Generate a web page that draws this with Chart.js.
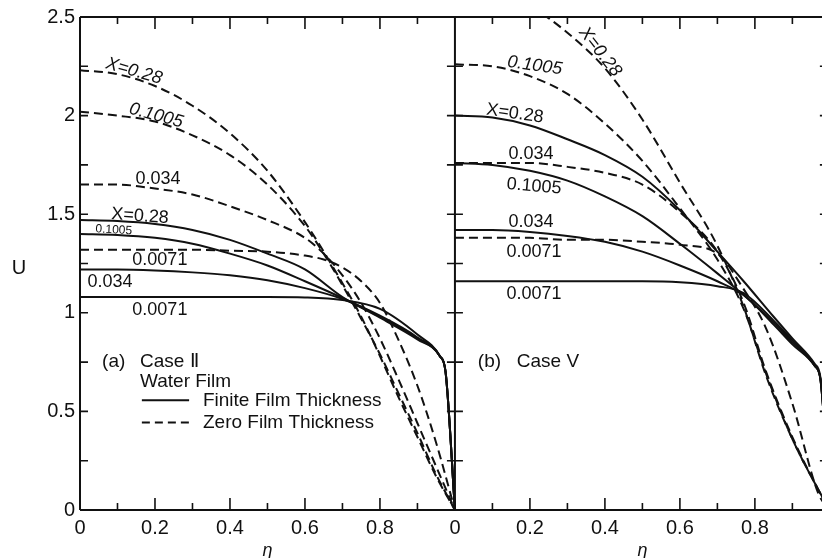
<!DOCTYPE html>
<html>
<head>
<meta charset="utf-8">
<script src="https://cdn.jsdelivr.net/npm/chart.js@4.4.1/dist/chart.umd.min.js"></script>
<style>
  html, body { margin: 0; padding: 0; background: #fff; }
  #wrap { width: 822px; height: 558px; position: relative; }
</style>
</head>
<body>
<div id="wrap"><canvas id="uChart"></canvas></div>
<script>
// (a) Case II - water film, eta grid for finite film thickness (solid)
const etaA = [0, 0.1, 0.2, 0.3, 0.4, 0.5, 0.6, 0.7, 0.8, 0.9, 0.96, 0.975, 1.0];
const a028 = [1.47, 1.465, 1.45, 1.42, 1.37, 1.30, 1.22, 1.08, 0.975, 0.865, 0.78, 0.70, 0];
const a1005 = [1.40, 1.395, 1.38, 1.35, 1.30, 1.24, 1.16, 1.075, 0.98, 0.87, 0.78, 0.70, 0];
const a034 = [1.22, 1.22, 1.215, 1.205, 1.19, 1.165, 1.125, 1.07, 0.985, 0.875, 0.78, 0.70, 0];
const a0071 = [1.08, 1.08, 1.08, 1.08, 1.08, 1.08, 1.078, 1.065, 1.02, 0.89, 0.78, 0.70, 0];

// (a) zero film thickness (dashed)
const etaAD = [0, 0.1, 0.2, 0.3, 0.4, 0.5, 0.6, 0.65, 0.7, 0.75, 0.8, 0.85, 0.9, 0.95, 1.0];
const ad028 = [2.23, 2.21, 2.15, 2.05, 1.91, 1.72, 1.46, 1.31, 1.15, 0.98, 0.78, 0.57, 0.37, 0.17, 0];
const ad1005 = [2.02, 2.0, 1.97, 1.90, 1.80, 1.65, 1.44, 1.30, 1.14, 0.97, 0.79, 0.59, 0.39, 0.18, 0];
const ad034 = [1.65, 1.65, 1.63, 1.60, 1.54, 1.47, 1.38, 1.30, 1.19, 1.05, 0.87, 0.66, 0.44, 0.22, 0];
const ad0071 = [1.32, 1.32, 1.32, 1.32, 1.315, 1.31, 1.29, 1.27, 1.23, 1.16, 1.05, 0.86, 0.63, 0.34, 0];

// (b) Case V, finite film thickness (solid)
const etaB = [0, 0.1, 0.2, 0.3, 0.4, 0.5, 0.6, 0.7, 0.77, 0.85, 0.9, 0.96, 0.975, 1.0];
const b028 = [2.0, 1.99, 1.95, 1.88, 1.80, 1.69, 1.52, 1.31, 1.16, 0.98, 0.87, 0.74, 0.67, 0];
const b1005 = [1.76, 1.75, 1.72, 1.67, 1.59, 1.49, 1.35, 1.20, 1.09, 0.95, 0.85, 0.73, 0.66, 0];
const b034 = [1.42, 1.42, 1.41, 1.39, 1.36, 1.31, 1.24, 1.16, 1.09, 0.94, 0.84, 0.73, 0.66, 0];
const b0071 = [1.16, 1.16, 1.16, 1.16, 1.16, 1.16, 1.155, 1.135, 1.10, 0.96, 0.86, 0.73, 0.66, 0];

// (b) zero film thickness (dashed)
const etaBD = [0, 0.1, 0.2, 0.3, 0.4, 0.5, 0.6, 0.7, 0.77, 0.83, 0.9, 0.97, 1.0];
const bd028 = [2.72, 2.68, 2.56, 2.42, 2.24, 1.98, 1.66, 1.34, 1.03, 0.68, 0.36, 0.10, 0];
const bd1005 = [2.26, 2.25, 2.20, 2.11, 1.96, 1.77, 1.53, 1.27, 1.02, 0.69, 0.36, 0.10, 0];
const bd034 = [1.76, 1.76, 1.76, 1.74, 1.71, 1.65, 1.51, 1.31, 1.05, 0.70, 0.37, 0.10, 0];
const bd0071 = [1.38, 1.38, 1.38, 1.37, 1.37, 1.36, 1.345, 1.30, 1.12, 0.92, 0.54, 0.08, 0];

// axis ticks
const etaTicks = [0, 0.1, 0.2, 0.3, 0.4, 0.5, 0.6, 0.7, 0.8, 0.9];
const uTicks = [0, 0.25, 0.5, 0.75, 1, 1.25, 1.5, 1.75, 2, 2.25, 2.5];

// curve labels: panel, eta, U, text, angle, italic, size
const notes = [
  [0, 0.144, 2.225, 'X=0.28', 16, true, 18],
  [0, 0.203, 2.0, '0.1005', 15, true, 18],
  [0, 0.208, 1.677, '0.034', 0, false, 18],
  [0, 0.16, 1.49, 'X=0.28', 4, false, 18],
  [0, 0.09, 1.42, '0.1005', 3, false, 12],
  [0, 0.213, 1.268, '0.0071', 0, false, 18],
  [0, 0.08, 1.157, '0.034', 0, false, 18],
  [0, 0.213, 1.015, '0.0071', 0, false, 18],
  [1, 0.387, 2.323, 'X=0.28', 52, true, 18],
  [1, 0.213, 2.253, '0.1005', 8, true, 18],
  [1, 0.16, 2.01, 'X=0.28', 8, false, 18],
  [1, 0.203, 1.803, '0.034', 0, false, 18],
  [1, 0.211, 1.641, '0.1005', 5, false, 18],
  [1, 0.203, 1.46, '0.034', 0, false, 18],
  [1, 0.211, 1.308, '0.0071', 0, false, 18],
  [1, 0.211, 1.096, '0.0071', 0, false, 18]
];

const INK = '#111';
const FONT = "'Liberation Sans', Arial, sans-serif";

function curve(etas, vals, panel, dashed) {
  return {
    data: etas.map((e, i) => ({ x: e + panel, y: vals[i] })),
    borderColor: INK,
    borderWidth: 2,
    borderDash: dashed ? [9, 5] : [],
    pointRadius: 0,
    cubicInterpolationMode: 'monotone',
    fill: false
  };
}

const datasets = [
  curve(etaA, a028, 0, false), curve(etaA, a1005, 0, false),
  curve(etaA, a034, 0, false), curve(etaA, a0071, 0, false),
  curve(etaAD, ad028, 0, true), curve(etaAD, ad1005, 0, true),
  curve(etaAD, ad034, 0, true), curve(etaAD, ad0071, 0, true),
  curve(etaB, b028, 1, false), curve(etaB, b1005, 1, false),
  curve(etaB, b034, 1, false), curve(etaB, b0071, 1, false),
  curve(etaBD, bd028, 1, true), curve(etaBD, bd1005, 1, true),
  curve(etaBD, bd034, 1, true), curve(etaBD, bd0071, 1, true)
];

// frame, inward ticks, titles and labels
const framePlugin = {
  id: 'frame',
  afterDraw(chart) {
    const { ctx, chartArea: a, scales: { x, y } } = chart;
    ctx.save();
    ctx.strokeStyle = INK;
    ctx.fillStyle = INK;
    ctx.lineWidth = 2;
    ctx.setLineDash([]);
    const mid = x.getPixelForValue(1);
    const far = x.getPixelForValue(2);

    ctx.beginPath();
    ctx.moveTo(a.left, a.top); ctx.lineTo(a.left, a.bottom);
    ctx.moveTo(a.left, a.bottom); ctx.lineTo(a.right, a.bottom);
    ctx.moveTo(a.left, a.top); ctx.lineTo(a.right, a.top);
    ctx.moveTo(mid, a.top); ctx.lineTo(mid, a.bottom);
    ctx.stroke();

    ctx.lineWidth = 1.6;
    ctx.beginPath();
    [0, 1].forEach(p => {
      etaTicks.forEach((e, k) => {
        if (k === 0) return;
        const px = x.getPixelForValue(p + e);
        const len = k % 2 === 0 ? 12 : 7;
        ctx.moveTo(px, a.bottom); ctx.lineTo(px, a.bottom - len);
        ctx.moveTo(px, a.top); ctx.lineTo(px, a.top + len);
      });
    });
    uTicks.forEach(u => {
      if (u === 0 || u === 2.5) return;
      const py = y.getPixelForValue(u);
      ctx.moveTo(a.left, py); ctx.lineTo(a.left + 8, py);
      ctx.moveTo(mid - 8, py); ctx.lineTo(mid + 8, py);
      ctx.moveTo(far - 10, py); ctx.lineTo(far, py);
    });
    ctx.stroke();

    ctx.textAlign = 'center';
    ctx.textBaseline = 'middle';
    ctx.font = 'italic 18px ' + FONT;
    ctx.fillText('\u03b7', x.getPixelForValue(0.5), 551);
    ctx.fillText('\u03b7', x.getPixelForValue(1.5), 551);
    ctx.font = '20px ' + FONT;
    ctx.fillText('U', 19, y.getPixelForValue(1.227));

    notes.forEach(([p, e, u, t, ang, it, sz]) => {
      ctx.save();
      ctx.translate(x.getPixelForValue(p + e), y.getPixelForValue(u));
      ctx.rotate(ang * Math.PI / 180);
      ctx.font = (it ? 'italic ' : '') + sz + 'px ' + FONT;
      ctx.fillText(t, 0, 0);
      ctx.restore();
    });

    // legend / case captions
    ctx.textAlign = 'left';
    ctx.font = '19px ' + FONT;
    const lx = e => x.getPixelForValue(e);
    const ly = u => y.getPixelForValue(u);
    ctx.fillText('(a)', lx(0.059), ly(0.753));
    ctx.fillText('Case \u2161', lx(0.16), ly(0.753));
    ctx.fillText('Water Film', lx(0.16), ly(0.652));
    ctx.fillText('Finite Film Thickness', lx(0.328), ly(0.556));
    ctx.fillText('Zero Film Thickness', lx(0.328), ly(0.444));
    ctx.fillText('(b)', lx(1.061), ly(0.753));
    ctx.fillText('Case V', lx(1.165), ly(0.753));
    ctx.lineWidth = 2;
    ctx.beginPath();
    ctx.moveTo(lx(0.165), ly(0.556)); ctx.lineTo(lx(0.291), ly(0.556));
    ctx.stroke();
    ctx.setLineDash([8, 5]);
    ctx.beginPath();
    ctx.moveTo(lx(0.165), ly(0.444)); ctx.lineTo(lx(0.291), ly(0.444));
    ctx.stroke();
    ctx.restore();
  }
};

const ctxU = document.getElementById('uChart').getContext('2d');
const uChart = new Chart(ctxU, {
  type: 'line',
  data: { datasets: datasets },
  plugins: [framePlugin],
  options: {
    responsive: true,
    maintainAspectRatio: false,
    animation: false,
    layout: { padding: { top: 15, right: 0, left: 0, bottom: 0 } },
    plugins: { legend: { display: false }, tooltip: { enabled: false } },
    scales: {
      x: {
        type: 'linear',
        min: 0,
        max: 1.979,
        afterBuildTicks: scale => {
          scale.ticks = [0, 1].flatMap(p => etaTicks.map(e => ({ value: p + e })));
        },
        afterFit: scale => { scale.height = 48; },
        grid: { display: false, drawTicks: false },
        border: { display: false },
        ticks: {
          autoSkip: false,
          maxRotation: 0,
          padding: 6,
          color: INK,
          font: { family: FONT, size: 20 },
          callback: v => {
            const k = Math.round(v * 10);
            if (k % 2) return '';
            const e = (k % 10) / 10;
            return e === 0 ? '0' : e.toFixed(1);
          }
        }
      },
      y: {
        min: 0,
        max: 2.5,
        afterBuildTicks: scale => { scale.ticks = uTicks.map(u => ({ value: u })); },
        afterFit: scale => { scale.width = 80; },
        grid: { display: false, drawTicks: false },
        border: { display: false },
        ticks: {
          padding: 5,
          color: INK,
          font: { family: FONT, size: 20 },
          callback: v => (Math.abs(v * 2 - Math.round(v * 2)) < 1e-6 ? String(v) : '')
        }
      }
    }
  }
});
</script>
</body>
</html>
